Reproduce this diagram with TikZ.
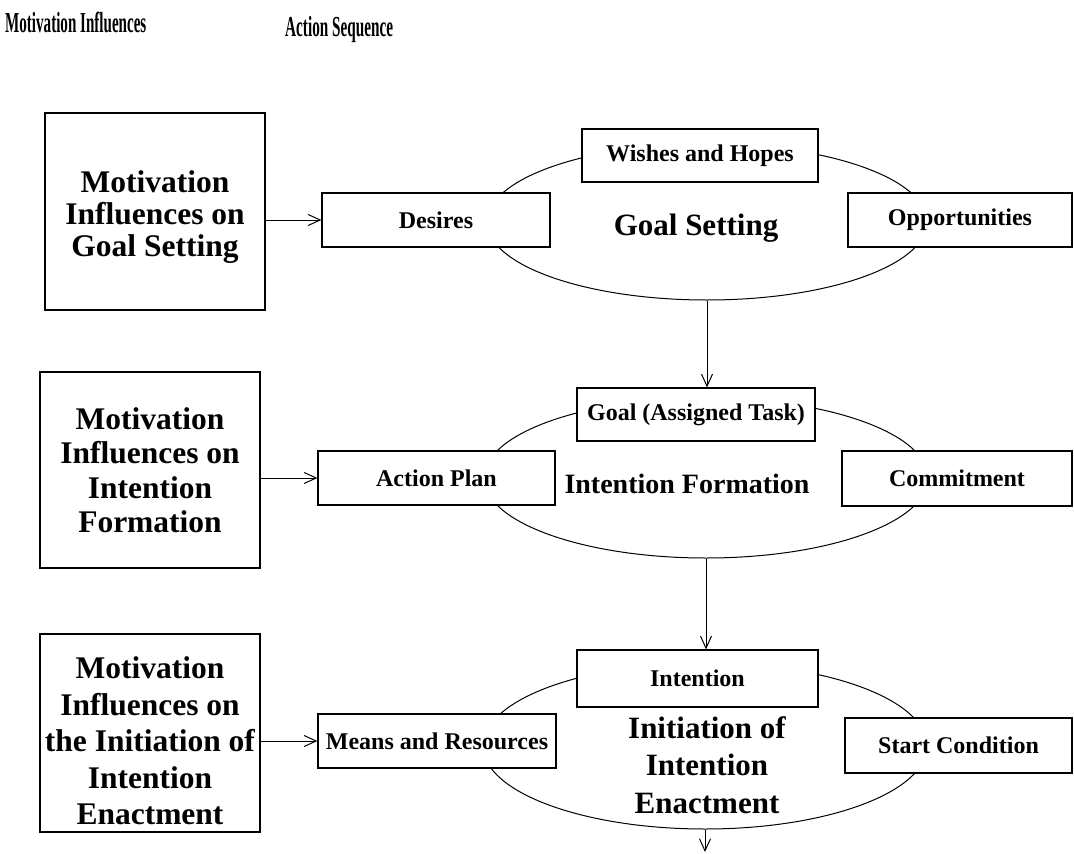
\documentclass[tikz,border=0pt]{standalone}
\usepackage{fontspec}
\setmainfont{Liberation Serif}
\usetikzlibrary{arrows.meta,shapes.geometric}

\begin{document}
\begin{tikzpicture}[x=1pt,y=-1pt,
  box/.style={draw,line width=1.3pt,fill=white,inner sep=0pt,
    font=\bfseries\fontsize{24}{28}\selectfont},
  infbox/.style={draw,line width=1.3pt,fill=white,inner sep=0pt,
    minimum width=220pt,align=center},
  oval/.style={draw,ellipse,line width=1pt,inner sep=0pt},
  big/.style={font=\bfseries\fontsize{31}{37.5}\selectfont,align=center,inner sep=0pt},
  head/.style={font=\bfseries\fontsize{29}{30}\selectfont,inner sep=0pt,anchor=base west},
  arr/.style={line width=1pt,-{Straight Barb[length=12pt,width=11pt,line width=1pt]}}
]
\useasboundingbox (0,0) rectangle (1074,854);

% column headings
\node[head] (h1) at (5,32) {\scalebox{0.52}[1]{Motivation Influences}};
\node[head] (h2) at (285,36) {\scalebox{0.525}[1]{Action Sequence}};

% ---- stage 1: goal setting ----
\node[oval,minimum width=440pt,minimum height=156pt] (e1) at (707,222) {};
\node[box,minimum width=228pt,minimum height=54pt] (d1) at (436,220) {Desires};
\node[box,minimum width=236pt,minimum height=53pt] (w1) at (700,155.5) {Wishes and Hopes};
\node[box,minimum width=224pt,minimum height=54pt] (o1) at (960,220) {Opportunities};
\node[big,anchor=base] (t1) at (696,235) {Goal Setting};
\node[infbox,minimum width=220pt,minimum height=197pt] (m1) at (155,211.5) {};
\node[font=\bfseries\fontsize{31.5}{32}\selectfont,align=center,inner sep=0pt] (m1t) at (155,217.5)
  {Motivation\\Influences on\\Goal Setting};

% ---- stage 2: intention formation ----
\node[oval,minimum width=444pt,minimum height=160pt] (e2) at (706,478) {};
\node[box,minimum width=238pt,minimum height=53pt] (g2) at (696,414.5) {Goal (Assigned Task)};
\node[box,minimum width=237pt,minimum height=54pt] (a2) at (436.5,478) {Action Plan};
\node[box,minimum width=230pt,minimum height=55pt] (c2) at (957,478.5) {Commitment};
\node[big,anchor=base,font=\bfseries\fontsize{28}{34}\selectfont] (t2) at (687,493) {Intention Formation};
\node[infbox,minimum height=196pt,font=\bfseries\fontsize{31.5}{34.5}\selectfont] (m2) at (150,470)
  {Motivation\\Influences on\\Intention\\Formation};

% ---- stage 3: initiation of intention enactment ----
\node[oval,minimum width=444pt,minimum height=166pt] (e3) at (705,746) {};
\node[box,minimum width=241pt,minimum height=57pt] (i3) at (697.5,678.5) {Intention};
\node[box,minimum width=238pt,minimum height=54pt] (r3) at (437,741) {Means and Resources};
\node[box,minimum width=227pt,minimum height=55pt] (s3) at (958.5,745.5) {Start Condition};
\node[big] (t3) at (707,765) {Initiation of\\Intention\\Enactment};
\node[infbox,minimum height=198pt] (m3) at (150,733) {};
\node[font=\bfseries\fontsize{31.5}{36.5}\selectfont,align=center,inner sep=0pt] (m3t) at (150,741)
  {Motivation\\Influences on\\the Initiation of\\Intention\\Enactment};

\coordinate (out) at (705,852);

% influences feeding each stage
\draw[arr] (d1.west -| m1.east) -- (d1.west);
\draw[arr] (a2.west -| m2.east) -- (a2.west);
\draw[arr] (r3.west -| m3.east) -- (r3.west);

% sequence from stage to stage
\draw[arr] (e1.south) -- (e1.south |- g2.north);
\draw[arr] (e2.south) -- (e2.south |- i3.north);
\draw[arr] (e3.south) -- (out);
\end{tikzpicture}
\end{document}
